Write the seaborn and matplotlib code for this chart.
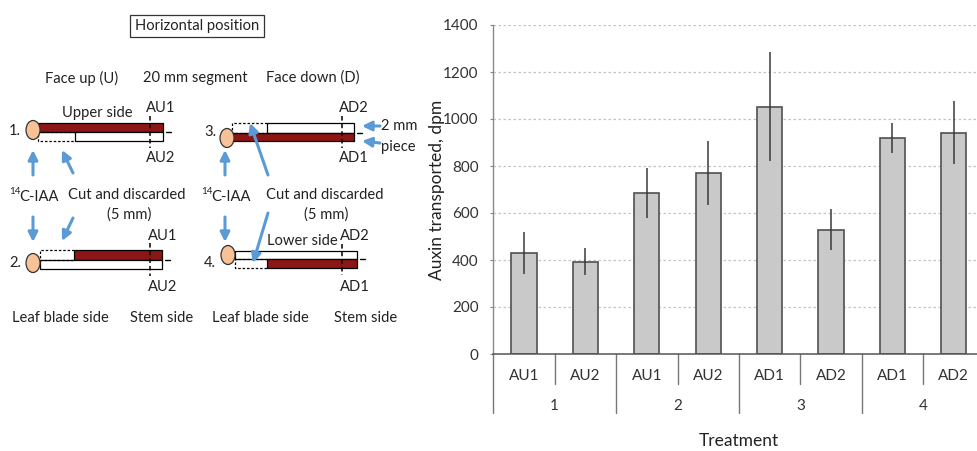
#%%
# Auxin transport in horizontal segments: diagram + bar chart

import numpy as np
import pandas as pd
import seaborn as sns
import matplotlib.pyplot as plt
from matplotlib.patches import Rectangle, Ellipse
from matplotlib.transforms import blended_transform_factory

# chart data
groups = ["1", "1", "2", "2", "3", "3", "4", "4"]
pieces = ["AU1", "AU2", "AU1", "AU2", "AD1", "AD2", "AD1", "AD2"]
auxin = [431, 393, 684, 770, 1052, 529, 918, 942]
auxin_err = [90, 58, 107, 136, 231, 86, 64, 134]
y_ticks = [0, 200, 400, 600, 800, 1000, 1200, 1400]

df = pd.DataFrame({"group": groups, "piece": pieces, "auxin": auxin})
df["key"] = df["group"] + "-" + df["piece"]

sns.set_style("white")
plt.rcParams["font.family"] = ["Lato", "DejaVu Sans"]

W, H = 977, 451
fig = plt.figure(figsize=(W / 100, H / 100), dpi=100)

# ---------------- left diagram (pixel coordinates) ----------------
d = fig.add_axes([0, 0, 1, 1])
d.set_xlim(0, W)
d.set_ylim(H, 0)
d.axis("off")

red = "#8c1515"
peach = "#f9c196"
blue = "#5b9bd5"
txt = "#222222"
fs = 10.6


def t(x, y, s, ha="center", size=fs):
    d.text(x, y, s, ha=ha, va="center", fontsize=size, color=txt)


def solid(x0, x1, y0, y1, fc):
    d.add_patch(Rectangle((x0, y0), x1 - x0, y1 - y0, facecolor=fc,
                          edgecolor="black", lw=0.9))


def dashed(x0, x1, y0, y1):
    d.plot([x1, x0, x0, x1], [y0, y0, y1, y1], color="black", lw=0.9,
           ls=(0, (2, 1.5)))


def arrow(x0, y0, x1, y1):
    d.annotate("", xy=(x1, y1), xytext=(x0, y0),
               arrowprops=dict(arrowstyle="-|>", color=blue, lw=2.2,
                               mutation_scale=14, shrinkA=0, shrinkB=0))


def segment(xc, yc, xa, xcut, xb, ytop, ymid, ybot, top_red, cut_top, xv):
    # upper and lower halves of the segment
    top_fc = red if top_red else "white"
    bot_fc = "white" if top_red else red
    solid(xcut if cut_top else xa, xb, ytop, ymid, top_fc)
    solid(xa if cut_top else xcut, xb, ymid, ybot, bot_fc)
    if cut_top:
        dashed(xa, xcut, ytop, ymid)
    else:
        dashed(xa, xcut, ymid, ybot)
    d.plot([xv, xv], [ytop - 7, ybot + 7], color="black", lw=1.1,
           ls=(0, (3, 2)))
    d.plot([xb + 3, xb + 8], [ymid, ymid], color="black", lw=1)
    d.add_patch(Ellipse((xc, yc), 14, 19, facecolor=peach,
                        edgecolor="#333333", lw=0.9, zorder=3))


# title box
d.text(197, 26, "Horizontal position", ha="center", va="center",
       fontsize=fs, color=txt,
       bbox=dict(boxstyle="square,pad=0.3", fc="white", ec="#333333", lw=0.9))

t(82, 78, "Face up (U)")
t(195, 78, "20 mm segment")
t(313, 78, "Face down (D)")

# row 1
t(15, 131, "1.")
segment(33, 130, 38, 75, 163, 123, 132, 141, True, False, 150)
t(97, 113, "Upper side")
t(161, 108, "AU1")
t(161, 158, "AU2")

# row 3
t(210, 132, "3.")
segment(227, 138, 232, 267, 354, 123, 133, 141, False, True, 342)
t(354, 108, "AD2")
t(354, 158, "AD1")
d.text(381, 126, "2 mm", ha="left", va="center", fontsize=fs, color=txt)
d.text(381, 147, "piece", ha="left", va="center", fontsize=fs, color=txt)
arrow(380, 126, 362, 126)
arrow(380, 143, 362, 141)

# row 2
t(15, 263, "2.")
segment(33, 263, 40, 74, 162, 250, 260, 269, True, True, 150)
t(163, 236, "AU1")
t(163, 287, "AU2")

# row 4
t(210, 263, "4.")
segment(228, 255, 235, 267, 357, 251, 259, 268, False, False, 342)
t(302, 241, "Lower side")
t(355, 236, "AD2")
t(355, 287, "AD1")

# labels and arrows between rows
for x0 in (9, 201):
    d.text(x0, 192, "14", ha="left", va="center", fontsize=7, color=txt)
    d.text(x0 + 10, 197, "C-IAA", ha="left", va="center", fontsize=fs,
           color=txt)
t(127, 195, "Cut and discarded")
t(129, 215, "(5 mm)")
t(325, 195, "Cut and discarded")
t(326, 215, "(5 mm)")

arrow(33, 175, 33, 150)
arrow(73, 173, 62, 150)
arrow(33, 217, 33, 242)
arrow(73, 218, 62, 241)
arrow(225, 175, 225, 150)
arrow(268, 175, 250, 123)
arrow(225, 217, 225, 242)
arrow(268, 213, 253, 263)

t(60, 318, "Leaf blade side")
t(162, 318, "Stem side")
t(260, 318, "Leaf blade side")
t(366, 318, "Stem side")

# ---------------- right bar chart ----------------
ax_l, ax_b, ax_t = 493.3, 354.0, 25.0
ax = fig.add_axes([ax_l / W, 1 - ax_b / H, 1 - ax_l / W, (ax_b - ax_t) / H])

sns.barplot(data=df, x="key", y="auxin", order=list(df["key"]),
            color="#c9c9c9", edgecolor="#505050", linewidth=1.2,
            width=0.41, saturation=1, errorbar=None, ax=ax, zorder=2)
ax.errorbar(np.arange(len(auxin)), auxin, yerr=auxin_err, fmt="none",
            ecolor="#3a3a3a", elinewidth=1.1, capsize=0, zorder=3)

ax.set_ylim(0, 1400)
ax.set_xlim(-0.5, 7 + (W - 953.8) / 61.4)
ax.set_yticks(y_ticks)
ax.tick_params(axis="y", labelsize=11, labelcolor="#333333", length=2.5,
               color="#888888", pad=8, direction="out", left=True)
ax.set_xticks([])
ax.set_xlabel("")
ax.set_ylabel("")
ax.yaxis.grid(True, color="#c4c4c4", lw=0.9, ls=(0, (2, 2)), zorder=0)
ax.set_axisbelow(True)
for s in ("top", "right"):
    ax.spines[s].set_visible(False)
ax.spines["left"].set_color("#8a8a8a")
ax.spines["bottom"].set_color("#555555")
ax.spines["left"].set_linewidth(1)
ax.spines["bottom"].set_linewidth(1.1)

# hierarchical category axis
tr = blended_transform_factory(ax.transData, ax.transAxes)
ph = ax_b - ax_t
for i, p in enumerate(pieces):
    ax.text(i, (ax_b - 376) / ph, p, transform=tr, ha="center", va="center",
            fontsize=11, color="#333333")
for i in range(len(pieces)):
    xs = i - 0.5
    ylow = (ax_b - 413) / ph if i % 2 == 0 else (ax_b - 384) / ph
    ax.plot([xs, xs], [0, ylow], transform=tr, color="#777777", lw=1,
            clip_on=False)
for g in range(4):
    ax.text(2 * g + 0.5, (ax_b - 406) / ph, groups[2 * g], transform=tr,
            ha="center", va="center", fontsize=11, color="#333333")

ax.text(3.5, (ax_b - 441) / ph, "Treatment", transform=tr, ha="center",
        va="center", fontsize=12.5, color="#222222")
ax.text((437 - ax_l) / (W - ax_l), 0.5, "Auxin transported, dpm",
        transform=ax.transAxes, rotation=90, ha="center", va="center",
        fontsize=12.5, color="#222222")

plt.savefig("out.png", dpi=100)
